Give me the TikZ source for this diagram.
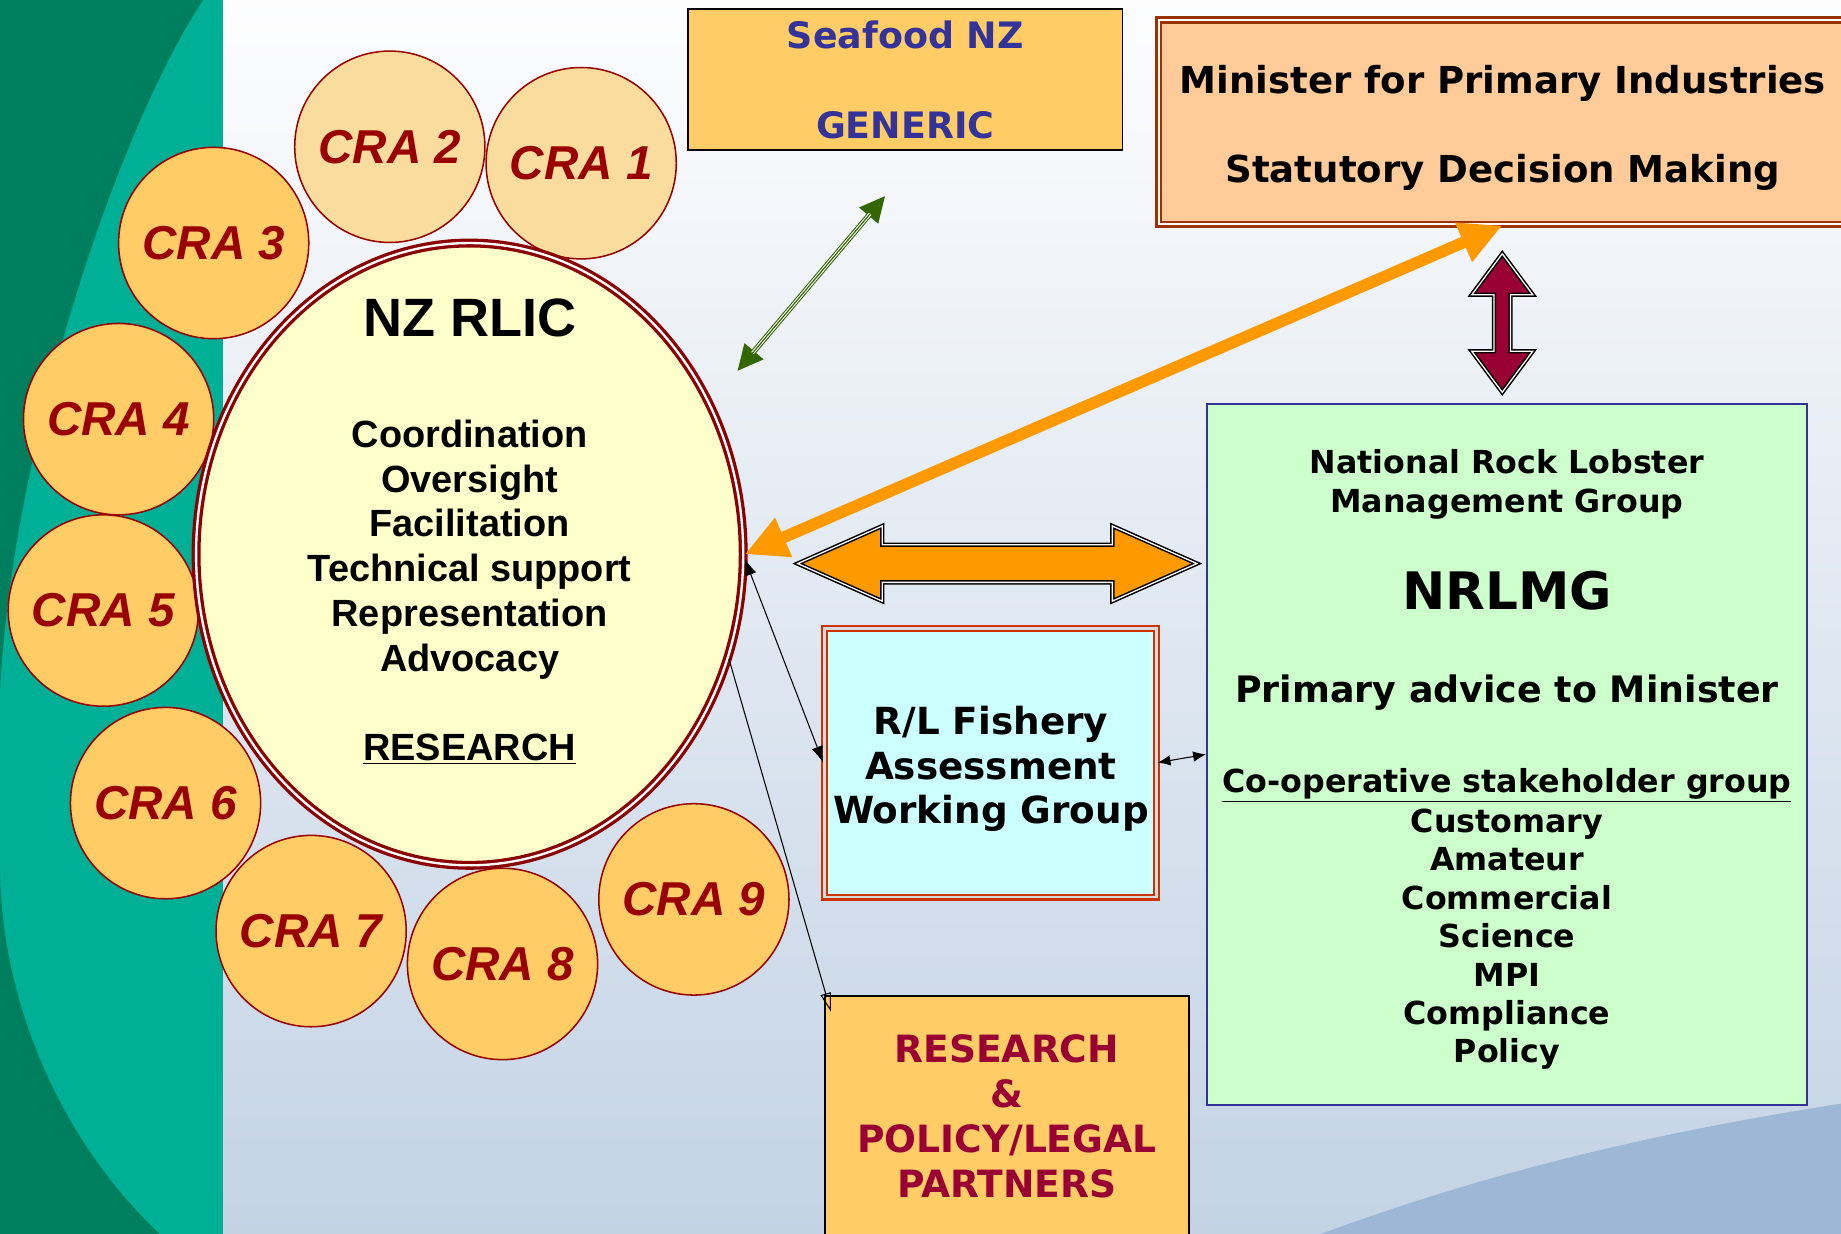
\documentclass[tikz,border=0pt]{standalone}
\usepackage{fontspec}
\setmainfont{DejaVu Sans}
\newfontfamily\arialfont{Liberation Sans}
\usetikzlibrary{shapes.geometric,arrows.meta,calc}

\definecolor{bgtop}{HTML}{FDFDFE}
\definecolor{bgmid}{HTML}{E4EBF3}
\definecolor{bgbottom}{HTML}{C3D3E5}
\definecolor{bgcurve}{HTML}{9DB7D4}
\definecolor{stripteal}{HTML}{00B096}
\definecolor{stripdark}{HTML}{007F5E}
\definecolor{craorange}{HTML}{FFCC66}
\definecolor{cralight}{HTML}{FBDC9F}
\definecolor{crared}{HTML}{990000}
\definecolor{rlicfill}{HTML}{FFFFCC}
\definecolor{rlicred}{HTML}{8B0000}
\definecolor{navy}{HTML}{333399}
\definecolor{peach}{HTML}{FFCC99}
\definecolor{rust}{HTML}{993300}
\definecolor{aqua}{HTML}{CCFFFF}
\definecolor{brick}{HTML}{CC3300}
\definecolor{mint}{HTML}{CCFFCC}
\definecolor{wine}{HTML}{990033}
\definecolor{amber}{HTML}{FF9900}
\definecolor{leaf}{HTML}{336600}

\newcommand{\boxfont}[2]{\bfseries\fontsize{#1}{#2}\selectfont}

\tikzset{
  crabox/.style={ellipse, draw=crared, line width=1.3pt, fill=craorange, minimum width=162pt, minimum height=163pt, inner sep=0pt, inner xsep=-30pt, text=crared, font=\arialfont\bfseries\itshape\fontsize{40.5}{48}\selectfont},
  rlictext/.style={align=center, inner sep=0pt, font=\arialfont\bfseries\fontsize{32.3}{38.2}\selectfont},
  plainbox/.style={rectangle, draw=black, line width=1.6pt, inner sep=0pt, align=center},
  blockarrow/.style={draw=black, line width=1.3pt, double=white, double distance=1.1pt, line join=miter},
  thinarrow/.style={draw=black, line width=0.9pt},
}

\begin{document}
\begin{tikzpicture}[x=1pt, y=-1pt]
\useasboundingbox (0,0) rectangle (1568,1051);
\clip (0,0) rectangle (1568,1051);
% background
\shade[top color=bgtop, middle color=bgmid, bottom color=bgbottom] (0,0) rectangle (1568,1051);
\fill[bgcurve] (1125,1051) .. controls (1290,990) and (1440,960) .. (1568,940) -- (1568,1051) -- cycle;
\fill[stripteal] (0,0) rectangle (190,1051);
\fill[stripdark] (0,0) -- (173,0) .. controls (100,110) and (10,380) .. (0,590) -- cycle;
\fill[stripdark] (0,737) .. controls (0,850) and (50,970) .. (136,1051) -- (0,1051) -- cycle;

% boxes
\node[plainbox, fill=craorange, minimum width=370pt, minimum height=120pt, text=navy, font=\boxfont{31}{76}] (seafood) at (771,68) {Seafood NZ\\GENERIC};
\node[rectangle, draw=rust, line width=2.2pt, double=white, double distance=1.8pt, fill=peach, minimum width=585pt, minimum height=174pt] (minister) at (1279.5,104) {};
\node[align=center, inner sep=0pt, font=\boxfont{31.6}{76}] (ministertext) at (1280,109) {Minister for Primary Industries\\Statutory Decision Making};
\node[rectangle, draw=brick, line width=1.8pt, double=white!85!black, double distance=2.4pt, fill=aqua, minimum width=283pt, minimum height=229pt] (rlfawg) at (843.5,649.5) {};
\node[align=center, inner sep=0pt, font=\boxfont{31.8}{38}] (rlfawgtext) at (844,655) {R/L Fishery\\Assessment\\Working Group};
\node[plainbox, fill=craorange, minimum width=310pt, minimum height=204pt, text=wine, font=\boxfont{32}{38.3}] (research) at (857.5,950.5) {RESEARCH\\\&\\POLICY/LEGAL\\PARTNERS};

% NRLMG
\node[rectangle, draw=navy, line width=1.6pt, fill=mint, minimum width=511pt, minimum height=597pt] (nrlmg) at (1283.5,642.5) {};
\node[align=center, inner sep=0pt, font=\boxfont{27}{33}] (nrname) at (1283.5,412.4) {National Rock Lobster\\Management Group};
\node[anchor=base, inner sep=0pt, font=\boxfont{44}{50}] (nrabbr) at (1283.5,519) {NRLMG};
\node[anchor=base, inner sep=0pt, font=\boxfont{31}{38}] (nradvice) at (1283.5,598) {Primary advice to Minister};
\node[anchor=base, inner sep=0pt, font=\boxfont{27}{33}] (nrcoop) at (1283.5,675) {\underline{Co-operative stakeholder group}};
\node[align=center, inner sep=0pt, font=\boxfont{27}{32.7}] (nrlist) at (1283.5,800) {Customary\\Amateur\\Commercial\\Science\\MPI\\Compliance\\Policy};

% CRA circles
\node[crabox, fill=cralight] (cra2) at (332,125) {CRA 2};
\node[crabox, fill=cralight] (cra1) at (495,139) {CRA 1};
\foreach \n/\x/\y in {3/182/207, 4/101/357, 5/88/520, 6/141/684, 7/265/793, 8/428/821, 9/591/766}
  \node[crabox] (cra\n) at (\x,\y) {CRA \n};

% NZ RLIC
\node[ellipse, draw=rlicred, line width=2.8pt, double=white, double distance=2pt, fill=rlicfill, minimum width=466pt, minimum height=530pt, inner sep=0pt] (rlic) at (400,472) {};
\node[anchor=base, inner sep=0pt, font=\arialfont\bfseries\fontsize{46}{50}\selectfont] (rlictitle) at (400,286.5) {NZ RLIC};
\node[rlictext] (rlictasks) at (400,468) {Coordination\\Oversight\\Facilitation\\Technical support\\Representation\\Advocacy};
\node[rlictext, anchor=base] (rlicresearch) at (400,648) {\underline{RESEARCH}};

% green link to Seafood NZ
\coordinate (gnear) at (628,316);
\coordinate (gfar) at ($(seafood.south)+(-17,38)$);
\draw[leaf, line width=4.6pt, {Triangle[length=22pt,width=20pt]}-{Triangle[length=22pt,width=20pt]}] (gnear) -- (gfar);
\draw[white, line width=2.8pt, shorten <=20pt, shorten >=20pt] (gnear) -- (gfar);
\draw[leaf, line width=1pt, shorten <=20pt, shorten >=20pt] (gnear) -- (gfar);

% orange link to the minister
\draw[amber, line width=10pt, {Triangle[length=36pt,width=34pt]}-{Triangle[length=36pt,width=34pt]}] (rlic.east) -- (minister.south);

% block arrows
\coordinate (mtop) at ($(minister.south)+(0,24)$);
\draw[blockarrow, fill=wine] (mtop) -- ++(26,35) -- ++(-19,0) -- ++(0,48) -- ++(19,0) -- ++(-26,35) -- ++(-26,-35) -- ++(19,0) -- ++(0,-48) -- ++(-19,0) -- cycle;
\coordinate (wleft) at ($(rlic.east)+(45,8)$);
\draw[blockarrow, fill=amber] (wleft) -- ++(72,-32) -- ++(0,16) -- ++(196,0) -- ++(0,-16) -- ++(72,32) -- ++(-72,32) -- ++(0,-16) -- ++(-196,0) -- ++(0,16) -- cycle;

% thin arrows
\draw[thinarrow, {Latex[length=14pt,width=10pt]}-{Latex[length=14pt,width=10pt]}] (rlic.-1) -- (rlfawg.west);
\draw[thinarrow, {Latex[length=11pt,width=9pt]}-{Latex[length=11pt,width=9pt]}] (rlfawg.east) -- (nrlmg.west);
\draw[thinarrow, -{Triangle[open,length=16pt,width=9pt]}] (rlic.-22) -- ($(research.north west)+(6,14)$);
\end{tikzpicture}
\end{document}
